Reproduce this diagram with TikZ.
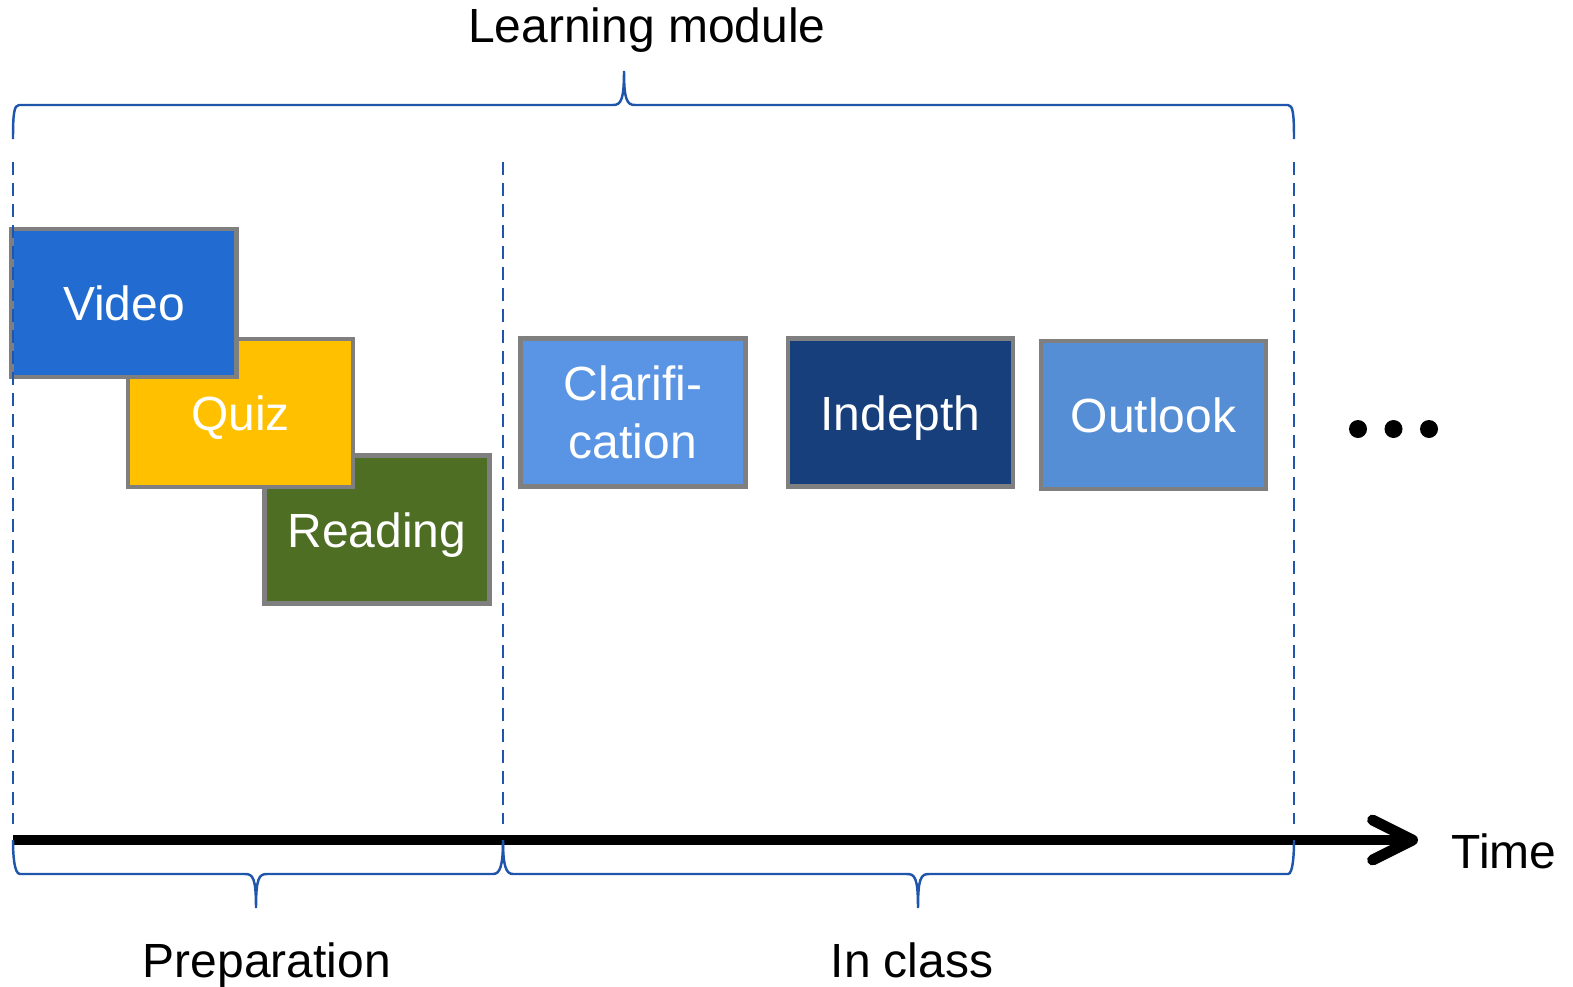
\documentclass[tikz,border=0pt]{standalone}
\usepackage{fontspec}
\setmainfont{Liberation Sans}
\usetikzlibrary{arrows.meta}
\definecolor{bracecol}{RGB}{31,85,170}
\definecolor{frame}{RGB}{127,127,127}
\definecolor{video}{RGB}{34,107,208}
\definecolor{quiz}{RGB}{255,192,0}
\definecolor{reading}{RGB}{78,110,36}
\definecolor{clarif}{RGB}{90,149,229}
\definecolor{indepth}{RGB}{22,63,124}
\definecolor{outlook}{RGB}{85,142,213}

\begin{document}
\begin{tikzpicture}[
        every node/.style={font=\fontsize{13.65}{16.5}\selectfont},
        box/.style={draw=frame, line width=1.4pt, minimum width=2.25cm, minimum height=1.48cm,
            inner sep=0pt, text=white, align=center, text height=1em, text depth=0pt},
        guide/.style={bracecol, line width=0.65pt, dash pattern=on 1.3mm off 0.8mm},
        bracket/.style={bracecol, line width=0.7pt}
    ]
        \useasboundingbox (0,0) rectangle (15.73,9.86);

        % time axis
        \coordinate (start) at (0.13,1.46);
        \coordinate (end) at (14.18,1.46);
        \draw[line width=3.1pt, -{Straight Barb[length=4mm,width=4mm,round]}] (start) -- (end);
        \node[anchor=base] (time) at (15.04,1.18) {Time};

        % preparation phase, stacked
        \node[box, fill=reading] (read) at (3.77,4.565) {Reading};
        \node[box, fill=quiz] (quiz) at (2.405,5.73) {Quiz};
        \node[box, fill=video] (video) at (1.24,6.83) {Video};

        % in class phase
        \node[box, fill=clarif, text height=, text depth=] (clar) at (6.33,5.735) {Clarifi-\\cation};
        \node[box, fill=indepth] (deep) at (9.005,5.735) {Indepth};
        \node[box, fill=outlook] (look) at (11.535,5.71) {Outlook};
        \foreach \x in {13.58,13.935,14.29}
            \fill (\x,5.57) circle[radius=0.09];

        % phase borders
        \foreach \x in {0.13,5.03,12.94}
            \draw[guide] (\x,8.24) -- (\x,1.62);

        % braces
        \draw[bracket] (0.13,8.47) .. controls (0.13,8.72) and (0.14,8.81) .. (0.19,8.81) -- (6.13,8.81)
            .. controls (6.21,8.81) and (6.24,8.86) .. (6.24,9.15)
            .. controls (6.24,8.86) and (6.27,8.81) .. (6.35,8.81) -- (12.88,8.81)
            .. controls (12.93,8.81) and (12.94,8.72) .. (12.94,8.47);
        \draw[bracket] (0.13,1.46) .. controls (0.13,1.32) and (0.14,1.12) .. (0.2,1.12) -- (2.45,1.12)
            .. controls (2.53,1.12) and (2.56,1.08) .. (2.56,0.78)
            .. controls (2.56,1.08) and (2.59,1.12) .. (2.67,1.12) -- (4.93,1.12)
            .. controls (5.0,1.12) and (5.03,1.2) .. (5.03,1.46);
        \draw[bracket] (5.03,1.46) .. controls (5.03,1.2) and (5.06,1.12) .. (5.13,1.12) -- (9.07,1.12)
            .. controls (9.15,1.12) and (9.18,1.08) .. (9.18,0.78)
            .. controls (9.18,1.08) and (9.21,1.12) .. (9.29,1.12) -- (12.88,1.12)
            .. controls (12.93,1.12) and (12.94,1.32) .. (12.94,1.46);

        \node[anchor=base] (module) at (6.47,9.44) {Learning module};
        \node[anchor=base] (prep) at (2.67,0.09) {Preparation};
        \node[anchor=base] (class) at (9.12,0.09) {In class};
    \end{tikzpicture}
\end{document}
